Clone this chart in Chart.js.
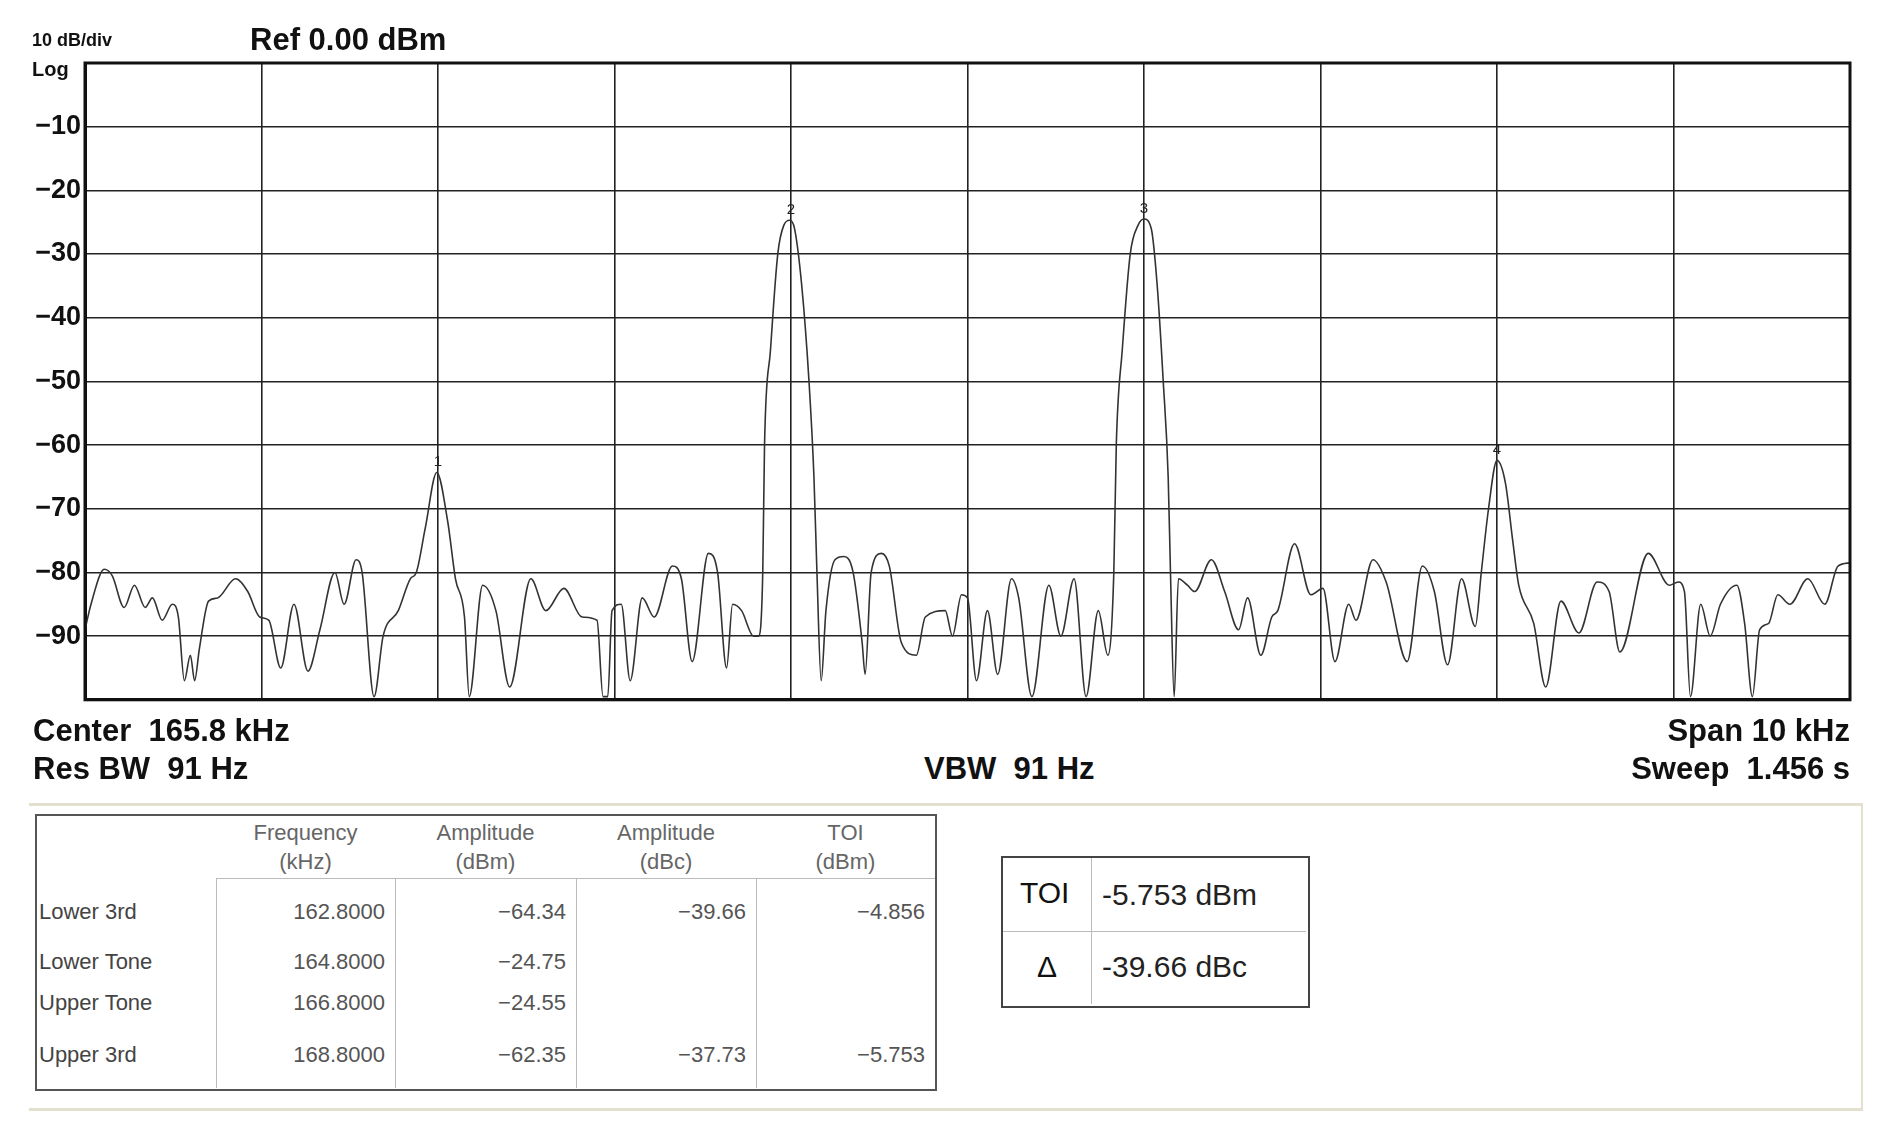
<!DOCTYPE html>
<html><head><meta charset="utf-8">
<script src="https://cdn.jsdelivr.net/npm/chart.js@4"></script>
<style>
body{margin:0;width:1894px;height:1136px;background:#fff;font-family:"Liberation Sans",Arial,sans-serif;position:relative;overflow:hidden}
.a{position:absolute;white-space:nowrap}
.b{font-weight:bold;color:#111}
#wrap{position:absolute;left:0;top:0;width:1894px;height:720px}
.cell{position:absolute;font-size:22px;color:#555}
</style></head><body>
<div id="wrap"><canvas id="c"></canvas></div>
<div class="a b" style="left:32px;top:30px;font-size:18px">10 dB/div</div>
<div class="a b" style="left:32px;top:58px;font-size:20px">Log</div>
<div class="a b" style="left:250px;top:22px;font-size:31px">Ref 0.00 dBm</div>
<div class="a b" style="left:33px;top:713px;font-size:31px">Center&nbsp; 165.8 kHz</div>
<div class="a b" style="left:33px;top:751px;font-size:31px">Res BW&nbsp; 91 Hz</div>
<div class="a b" style="left:924px;top:751px;font-size:31px">VBW&nbsp; 91 Hz</div>
<div class="a b" style="right:44px;top:713px;font-size:31px">Span 10 kHz</div>
<div class="a b" style="right:44px;top:751px;font-size:31px">Sweep&nbsp; 1.456 s</div>
<div class="a" style="left:29px;top:803px;width:1832px;height:302px;border:3px solid #e3e0d0;border-left:none;border-right:2px solid #e3e0d0"></div>
<div id="tbl"></div>
<div class="a" style="left:1001px;top:856px;width:305px;height:148px;border:2px solid #444"></div>
<div class="a" style="left:1091px;top:858px;width:1px;height:146px;background:#bbb"></div>
<div class="a" style="left:1003px;top:931px;width:303px;height:1px;background:#bbb"></div>
<div class="a" style="left:1020px;top:876px;font-size:30px;color:#111">TOI</div>
<div class="a" style="left:1102px;top:878px;font-size:30px;color:#222">-5.753 dBm</div>
<div class="a" style="left:1037px;top:950px;font-size:30px;color:#111">Δ</div>
<div class="a" style="left:1102px;top:950px;font-size:30px;color:#222">-39.66 dBc</div>
<script>
const yTicks=[-10,-20,-30,-40,-50,-60,-70,-80,-90];
const markerNames=["1","2","3","4"];
const markerFreq=[162.8,164.8,166.8,168.8];
const markerAmp=[-64.34,-24.75,-24.55,-62.35];
const freqKHz=[160.800,160.834,160.909,160.954,161.022,161.080,161.141,161.182,161.237,161.295,161.329,161.363,161.397,161.421,161.448,161.500,161.551,161.653,161.722,161.790,161.841,161.909,161.984,162.063,162.131,162.216,162.268,162.336,162.370,162.438,162.489,162.575,162.643,162.677,162.728,162.793,162.855,162.899,162.950,162.977,163.053,163.128,163.206,163.326,163.411,163.513,163.616,163.701,163.735,163.762,163.786,163.838,163.889,163.957,164.025,164.128,164.179,164.240,164.332,164.384,164.435,164.469,164.520,164.588,164.616,164.640,164.650,164.684,164.725,164.759,164.793,164.820,164.861,164.902,164.930,164.947,164.971,164.998,165.049,165.100,165.152,165.203,165.220,165.254,165.312,165.357,165.425,165.510,165.561,165.674,165.715,165.766,165.800,165.851,165.913,165.971,166.049,166.090,166.165,166.261,166.329,166.404,166.472,166.541,166.595,166.629,166.643,166.677,166.722,166.766,166.800,166.841,166.875,166.909,166.937,166.950,166.971,166.995,167.046,167.087,167.182,167.257,167.336,167.387,167.462,167.524,167.558,167.653,167.745,167.814,167.882,167.960,168.001,168.097,168.172,168.291,168.377,168.445,168.520,168.599,168.677,168.711,168.752,168.800,168.848,168.889,168.923,169.008,169.076,169.162,169.264,169.367,169.435,169.496,169.657,169.776,169.827,169.862,169.896,169.954,170.008,170.066,170.159,170.203,170.247,170.288,170.339,170.391,170.459,170.561,170.657,170.732,170.800];
const ampDBm=[-89,-85,-79.5,-80.5,-85.5,-82,-85.5,-84,-87.5,-85,-87,-97,-93,-97,-92,-84.5,-84,-81,-83,-87,-87.5,-95,-85,-95.5,-89,-80,-85,-78,-80,-99.5,-90,-86,-81,-80,-73,-64.3,-72,-81,-87,-99.5,-82,-86,-98,-81,-86,-82.5,-87,-87.5,-99.5,-99.5,-86,-85,-97,-84,-87,-79,-81,-94,-77,-80,-95,-85,-86,-90,-90,-80,-60,-45,-30,-25.5,-24.7,-26,-35,-50,-65,-80,-97,-86,-78,-77.5,-80,-91,-96,-80,-77,-79,-91,-93,-87,-86,-90,-83.5,-84,-97,-86,-96,-81,-84,-99.5,-82,-90,-81,-99.5,-86,-93,-80,-60,-45,-30,-25.5,-24.5,-26,-35,-50,-65,-80,-99.5,-81,-82,-83,-78,-83,-89,-84,-93,-87,-86,-75.5,-83.5,-82.5,-94,-85,-87.5,-78,-81.5,-94,-79,-83,-94.5,-81,-88.5,-80,-70,-62.4,-66,-75,-82,-88,-98,-84.5,-89.5,-81.5,-83,-92.5,-77,-82,-81.5,-83,-99.5,-85,-90,-85,-82,-88,-99.5,-89,-88,-83.5,-85,-81,-85,-79,-78.5];
const rowLabels=["Lower 3rd","Lower Tone","Upper Tone","Upper 3rd"];
const colHead1=["Frequency","Amplitude","Amplitude","TOI"];
const colHead2=["(kHz)","(dBm)","(dBc)","(dBm)"];
const colFreq=["162.8000","164.8000","166.8000","168.8000"];
const colAmp=["−64.34","−24.75","−24.55","−62.35"];
const colDbc=["−39.66","","","−37.73"];
const colToi=["−4.856","","","−5.753"];

const T=document.getElementById('tbl');
let h='<div class="a" style="left:35px;top:814px;width:898px;height:273px;border:2px solid #555"></div>';
h+='<div class="a" style="left:216px;top:878px;width:719px;height:1px;background:#bbb"></div>';
const colX=[216,395,576,756,935];
for(let i=0;i<4;i++){h+=`<div class="a" style="left:${colX[i]}px;top:878px;width:1px;height:210px;background:#bbb"></div>`;}
for(let i=0;i<4;i++){
 const cx=(colX[i]+colX[i+1])/2;
 h+=`<div class="cell a" style="left:${cx-80}px;width:160px;text-align:center;top:820px;color:#666">${colHead1[i]}</div>`;
 h+=`<div class="cell a" style="left:${cx-80}px;width:160px;text-align:center;top:849px;color:#666">${colHead2[i]}</div>`;
}
const rowY=[899,949,990,1042];
const cols=[colFreq,colAmp,colDbc,colToi];
for(let r=0;r<4;r++){
 h+=`<div class="cell a" style="left:39px;top:${rowY[r]}px;color:#444">${rowLabels[r]}</div>`;
 for(let c=0;c<4;c++) h+=`<div class="cell a" style="left:${colX[c]}px;width:${colX[c+1]-colX[c]-10}px;text-align:right;top:${rowY[r]}px">${cols[c][r]}</div>`;
}
T.innerHTML=h;

const markerPlugin={id:'mk',afterDatasetsDraw(ch){
 const ctx=ch.ctx,xs=ch.scales.x,ys=ch.scales.y;ctx.save();
 ctx.font='15px "Liberation Sans"';ctx.fillStyle='#222';ctx.textAlign='center';ctx.textBaseline='bottom';
 markerFreq.forEach((f,i)=>ctx.fillText(markerNames[i],xs.getPixelForValue(f),ys.getPixelForValue(markerAmp[i])-3));
 ctx.restore();}};
new Chart(document.getElementById('c'),{
 type:'line',
 data:{datasets:[{data:freqKHz.map((f,i)=>({x:f,y:ampDBm[i]})),borderColor:'#333',borderWidth:1.6,pointRadius:0,cubicInterpolationMode:'monotone',fill:false}]},
 options:{responsive:true,maintainAspectRatio:false,animation:false,
  layout:{padding:{left:0,top:63,right:44,bottom:16}},
  plugins:{legend:{display:false},tooltip:{enabled:false}},
  scales:{
   x:{type:'linear',min:160.8,max:170.8,ticks:{display:false,stepSize:1},grid:{color:'#222',lineWidth:1.6,drawTicks:false},border:{color:'#111',width:3},afterFit(s){s.height=0;}},
   y:{min:-100,max:0,ticks:{stepSize:10,padding:4,color:'#111',font:{family:'Liberation Sans',weight:'bold',size:27},callback:v=>yTicks.includes(v)?'−'+Math.abs(v):''},grid:{color:'#222',lineWidth:1.6,drawTicks:false},border:{color:'#111',width:3},afterFit(s){s.width=85;}}
  }},
 plugins:[markerPlugin,{id:'frame',afterDraw(ch){const a=ch.chartArea,c=ch.ctx;c.save();c.strokeStyle='#111';c.lineWidth=3;c.strokeRect(a.left,a.top,a.right-a.left,a.bottom-a.top);c.restore();}}]
});
</script></body></html>
